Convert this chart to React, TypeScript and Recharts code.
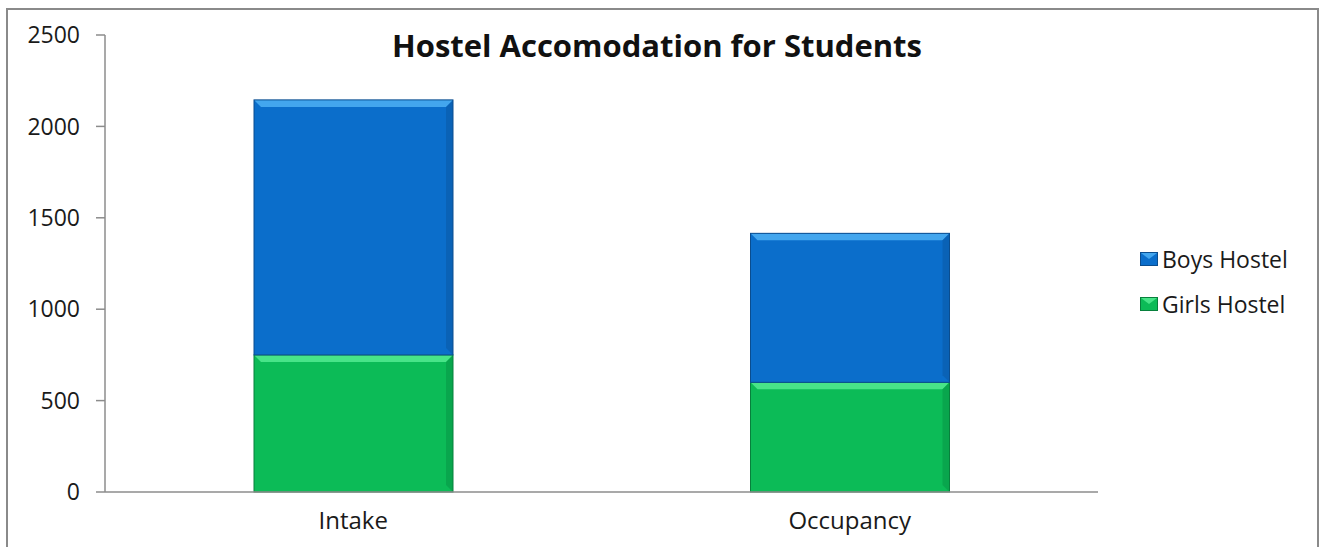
import React from 'react';
import { BarChart, Bar, XAxis, YAxis } from 'recharts';

const categories = ['Intake', 'Occupancy'];
const girlsHostel = [750, 600];
const boysHostel = [1395, 815];
const yTicks = [0, 500, 1000, 1500, 2000, 2500];

const seriesInfo = [
  { key: 'boys', name: 'Boys Hostel', fill: '#0b6ecb', light: '#43a6ee', dark: '#0a4d8f' },
  { key: 'girls', name: 'Girls Hostel', fill: '#0cbb57', light: '#48e488', dark: '#07803c' },
];

const data = categories.map((name, i) => ({
  name,
  girls: girlsHostel[i],
  boys: boysHostel[i],
}));

const FONT = '"Open Sans", "Liberation Sans", sans-serif';

// bevelled bar, looks like the old Office 3D style
const makeBevel = (light: string, dark: string) => (props: any) => {
  const { x, y, width, height, fill } = props;
  if (!height || height <= 0) return null;
  const b = Math.min(7, height / 3);
  return (
    <g>
      <rect x={x} y={y} width={width} height={height} fill={fill} />
      <polygon
        points={`${x},${y} ${x + width},${y} ${x + width - b},${y + b} ${x + b},${y + b}`}
        fill={light}
      />
      <polygon
        points={`${x + width},${y} ${x + width},${y + height} ${x + width - b},${y + height - b} ${x + width - b},${y + b}`}
        fill={dark}
        opacity={0.35}
      />
      <rect x={x} y={y} width={width} height={height} fill="none" stroke={dark} strokeWidth={1} />
    </g>
  );
};

const LegendBox = () => (
  <div style={{ position: 'absolute', left: 1140, top: 236, fontFamily: FONT, fontSize: 23, color: '#1a1a1a' }}>
    {seriesInfo.map((s) => (
      <div key={s.key} style={{ display: 'flex', alignItems: 'center', height: 45 }}>
        <svg width={18} height={14} style={{ marginRight: 4 }}>
          <rect x={0.5} y={0.5} width={17} height={13} fill={s.fill} stroke={s.dark} />
          <polygon points="1,1 17,1 9,7" fill={s.light} />
        </svg>
        <span>{s.name}</span>
      </div>
    ))}
  </div>
);

export default function App() {
  return (
    <div style={{ position: 'absolute', left: 0, top: 0, width: 1321, height: 547, background: '#fff', overflow: 'hidden' }}>
      <div
        style={{
          position: 'absolute', left: 6, top: 8, width: 1313, height: 560,
          border: '2px solid #8a8a8a', boxSizing: 'border-box',
        }}
      />
      <div
        style={{
          position: 'absolute', left: 392, top: 24, whiteSpace: 'nowrap',
          fontFamily: FONT, fontWeight: 700, fontSize: 31, color: '#111',
        }}
      >
        Hostel Accomodation for Students
      </div>
      <BarChart
        width={1321}
        height={547}
        data={data}
        margin={{ top: 35, right: 223, bottom: 25, left: 25 }}
        barSize={199}
        style={{ position: 'absolute', left: 0, top: 0 }}
      >
        <XAxis
          dataKey="name"
          height={30}
          axisLine={{ stroke: '#8c8c8c', strokeWidth: 1.5 }}
          tickLine={false}
          tick={{ fontFamily: FONT, fontSize: 24, fill: '#1a1a1a' }}
          tickMargin={14}
        />
        <YAxis
          width={80}
          domain={[0, 2500]}
          ticks={yTicks}
          interval={0}
          axisLine={{ stroke: '#8c8c8c', strokeWidth: 1.5 }}
          tickLine={{ stroke: '#8c8c8c', strokeWidth: 1.5 }}
          tickSize={9}
          tickMargin={16}
          tick={{ fontFamily: FONT, fontSize: 23, fill: '#1a1a1a' }}
        />
        <Bar
          dataKey="girls"
          name="Girls Hostel"
          stackId="a"
          fill="#0cbb57"
          shape={makeBevel('#48e488', '#07803c')}
          isAnimationActive={false}
        />
        <Bar
          dataKey="boys"
          name="Boys Hostel"
          stackId="a"
          fill="#0b6ecb"
          shape={makeBevel('#43a6ee', '#0a4d8f')}
          isAnimationActive={false}
        />
      </BarChart>
      <LegendBox />
    </div>
  );
}
